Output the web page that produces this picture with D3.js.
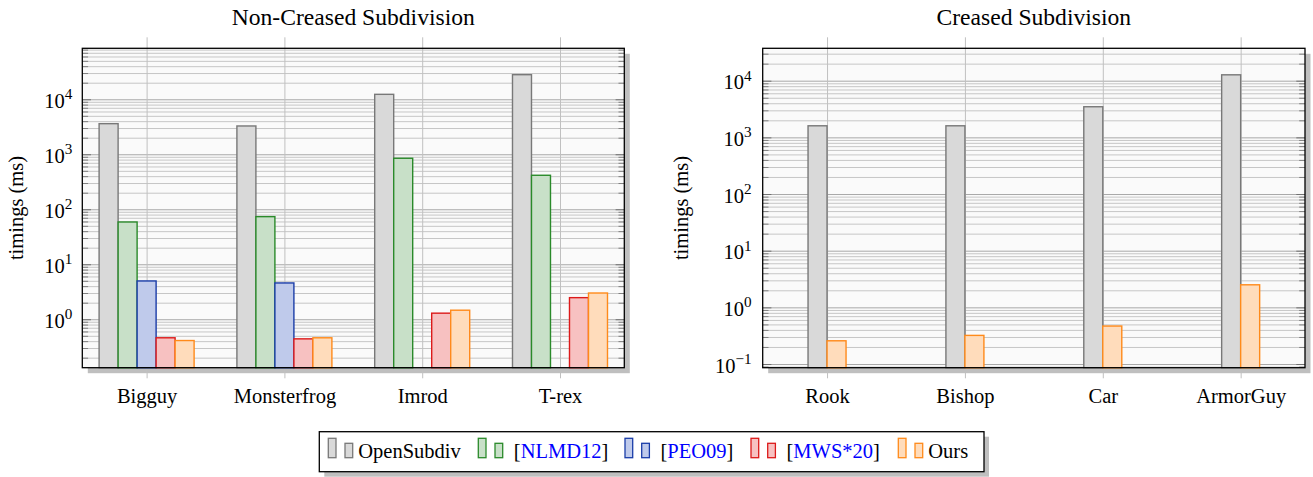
<!DOCTYPE html>
<html><head><meta charset="utf-8">
<script src="https://cdn.jsdelivr.net/npm/d3@7"></script>
<style>
html,body{margin:0;padding:0;background:#fff;}
svg{display:block;}
text{font-family:"Liberation Serif","Times New Roman",serif;fill:#000;}
</style></head>
<body><svg id="chart" width="1313" height="477"></svg>
<script>
// ---------- data ----------
const categoriesLeft = ["Bigguy", "Monsterfrog", "Imrod", "T-rex"];
const openSubdivLeft = [3600, 3270, 12300, 28000];
const nlmd12Left     = [58.7, 73.4, 846, 415];
const peo09Left      = [4.97, 4.57, null, null];
const mws20Left      = [0.46, 0.44, 1.29, 2.47];
const oursLeft       = [0.41, 0.46, 1.46, 3.0];

const categoriesRight = ["Rook", "Bishop", "Car", "ArmorGuy"];
const openSubdivRight = [1600, 1600, 3470, 12700];
const oursRight       = [0.257, 0.32, 0.468, 2.5];

const yExponentsLeft  = [0, 1, 2, 3, 4];
const yExponentsRight = [-1, 0, 1, 2, 3, 4];

const titleLeft = "Non-Creased Subdivision";
const titleRight = "Creased Subdivision";
const yLabel = "timings (ms)";

// ---------- styles ----------
const styles = {
  OpenSubdiv: {fill: "#d9d9d9", stroke: "#787878"},
  NLMD12:     {fill: "#c8e0c8", stroke: "#2a8a2a"},
  PEO09:      {fill: "#bfcaeb", stroke: "#1a3ca8"},
  MWS20:      {fill: "#f7c1c1", stroke: "#dc1a1a"},
  Ours:       {fill: "#ffdcbb", stroke: "#ff8a1a"}
};

const svg = d3.select("#chart");
const FS = 20.5;
const barW = 19;

function drawPanel(p) {
  const g = svg.append("g");
  const w = p.x1 - p.x0, h = p.y1 - p.y0;
  const x = d3.scaleLinear().domain([0.5333, 4.4667]).range([p.x0, p.x1]);
  const y = d3.scaleLog().domain(p.yDomain).range([p.y1, p.y0]);

  g.append("rect").attr("x", p.x0 + 5.5).attr("y", p.y0 + 5.5).attr("width", w).attr("height", h)
    .attr("fill", "#bfbfbf");
  g.append("rect").attr("x", p.x0).attr("y", p.y0).attr("width", w).attr("height", h)
    .attr("fill", "#fafafa");

  const majors = p.exps.map(e => Math.pow(10, e));
  const minors = [];
  for (let e = Math.floor(Math.log10(p.yDomain[0])); e <= Math.ceil(Math.log10(p.yDomain[1])); e++) {
    for (let k = 2; k <= 9; k++) {
      const v = k * Math.pow(10, e);
      if (v > p.yDomain[0] && v < p.yDomain[1]) minors.push(v);
    }
  }

  const gm = g.append("g").attr("transform", `translate(${p.x0},0)`)
    .call(d3.axisLeft(y).tickValues(minors).tickSize(-w).tickFormat(""));
  gm.select(".domain").remove();
  gm.selectAll("line").attr("stroke", "#c6c6c6");
  const gM = g.append("g").attr("transform", `translate(${p.x0},0)`)
    .call(d3.axisLeft(y).tickValues(majors).tickSize(-w).tickFormat(""));
  gM.select(".domain").remove();
  gM.selectAll("line").attr("stroke", "#a8a8a8");

  const gx = g.append("g").attr("transform", `translate(0,${p.y0 - 11})`)
    .call(d3.axisTop(x).tickValues([1, 2, 3, 4]).tickSize(-(h + 21.6)).tickFormat(""));
  gx.select(".domain").remove();
  gx.selectAll("line").attr("stroke", "#c0c0c0");

  const n = p.series.length;
  p.series.forEach((s, i) => {
    const off = (i - (n - 1) / 2) * barW;
    const st = styles[s.key];
    g.append("g").selectAll("rect").data(s.values.map((v, j) => ({v, j})).filter(d => d.v != null))
      .join("rect")
      .attr("x", d => x(d.j + 1) + off - barW / 2)
      .attr("y", d => y(d.v))
      .attr("width", barW)
      .attr("height", d => p.y1 - y(d.v))
      .attr("fill", st.fill).attr("stroke", st.stroke).attr("stroke-width", 1.4);
  });

  [[d3.axisLeft, p.x0], [d3.axisRight, p.x1]].forEach(([ax, xx]) => {
    const t1 = g.append("g").attr("transform", `translate(${xx},0)`)
      .call(ax(y).tickValues(minors).tickSize(-5.8).tickFormat(""));
    t1.select(".domain").remove();
    t1.selectAll("line").attr("stroke", "#808080");
    const t2 = g.append("g").attr("transform", `translate(${xx},0)`)
      .call(ax(y).tickValues(majors).tickSize(-8.7).tickFormat(""));
    t2.select(".domain").remove();
    t2.selectAll("line").attr("stroke", "#707070");
  });

  g.append("rect").attr("x", p.x0).attr("y", p.y0).attr("width", w).attr("height", h)
    .attr("fill", "none").attr("stroke", "#000").attr("stroke-width", 1.3);

  const yl = g.append("g").attr("transform", `translate(${p.x0},0)`)
    .call(d3.axisLeft(y).tickValues(majors).tickSize(0).tickPadding(p.labelPad));
  yl.select(".domain").remove();
  yl.selectAll("text").each(function(d) {
    const t = d3.select(this);
    const e = Math.round(Math.log10(d));
    t.text("").attr("dy", null).attr("y", 8.2).attr("font-size", FS)
      .style("font-family", '"Liberation Serif","Times New Roman",serif');
    t.append("tspan").text("10");
    t.append("tspan").attr("dy", -8.9).attr("font-size", 15.2).text(e < 0 ? "\u2212" + (-e) : String(e));
  });

  const xl = g.append("g").attr("transform", `translate(0,${p.y1})`)
    .call(d3.axisBottom(x).tickValues([1, 2, 3, 4]).tickSize(0)
      .tickFormat(i => p.cats[i - 1]));
  xl.select(".domain").remove();
  xl.selectAll("text").attr("y", 35.6).attr("dy", null).attr("font-size", FS)
    .style("font-family", '"Liberation Serif","Times New Roman",serif');

  g.append("text").attr("x", (p.x0 + p.x1) / 2).attr("y", 25).attr("text-anchor", "middle")
    .attr("font-size", 23.6).text(p.title);
  g.append("text").attr("transform", `translate(${p.ylabX},${(p.y0 + p.y1) / 2}) rotate(-90)`)
    .attr("text-anchor", "middle").attr("font-size", FS).text(yLabel);
}

drawPanel({
  x0: 82.3, x1: 624.3, y0: 48.3, y1: 367.7,
  yDomain: [0.1315, 84500], exps: yExponentsLeft, cats: categoriesLeft,
  title: titleLeft, ylabX: 23, labelPad: 10,
  series: [
    {key: "OpenSubdiv", values: openSubdivLeft},
    {key: "NLMD12", values: nlmd12Left},
    {key: "PEO09", values: peo09Left},
    {key: "MWS20", values: mws20Left},
    {key: "Ours", values: oursLeft}
  ]
});
drawPanel({
  x0: 762.7, x1: 1305, y0: 48.3, y1: 367.7,
  yDomain: [0.0861, 37300], exps: yExponentsRight, cats: categoriesRight,
  title: titleRight, ylabX: 688, labelPad: 11,
  series: [
    {key: "OpenSubdiv", values: openSubdivRight},
    {key: "Ours", values: oursRight}
  ]
});

// ---------- legend ----------
const legendItems = [
  {key: "OpenSubdiv", parts: [{t: "OpenSubdiv", c: "#000"}], cite: false},
  {key: "NLMD12", parts: [{t: "[", c: "#000"}, {t: "NLMD12", c: "#0000ff"}, {t: "]", c: "#000"}], cite: true},
  {key: "PEO09", parts: [{t: "[", c: "#000"}, {t: "PEO09", c: "#0000ff"}, {t: "]", c: "#000"}], cite: true},
  {key: "MWS20", parts: [{t: "[", c: "#000"}, {t: "MWS*20", c: "#0000ff"}, {t: "]", c: "#000"}], cite: true},
  {key: "Ours", parts: [{t: "Ours", c: "#000"}], cite: false}
];
const lg = svg.append("g");
const lgTop = 431.7, lgBottom = 471.7, base = 457.7, lgLeft = 319.3, lgRight = 984;
const itemX = [328.3, 478.3, 625, 751, 898.3];
lg.append("rect").attr("x", lgLeft + 5).attr("y", lgTop + 5).attr("width", lgRight - lgLeft)
  .attr("height", lgBottom - lgTop).attr("fill", "#bfbfbf");
lg.append("rect").attr("x", lgLeft).attr("y", lgTop).attr("width", lgRight - lgLeft)
  .attr("height", lgBottom - lgTop).attr("fill", "#fff").attr("stroke", "#000").attr("stroke-width", 1.3);
legendItems.forEach((it, i) => {
  const st = styles[it.key];
  const cx = itemX[i];
  lg.append("rect").attr("x", cx).attr("y", 438.3).attr("width", 7.7).attr("height", 19.4)
    .attr("fill", st.fill).attr("stroke", st.stroke).attr("stroke-width", 1.3);
  lg.append("rect").attr("x", cx + 16.7).attr("y", 443.3).attr("width", 7.7).attr("height", 14.4)
    .attr("fill", st.fill).attr("stroke", st.stroke).attr("stroke-width", 1.3);
  const tx = cx + 30 + (it.cite ? 5.5 : 0);
  const t = lg.append("text").attr("x", tx).attr("y", base).attr("font-size", FS);
  it.parts.forEach(pt => t.append("tspan").style("fill", pt.c).text(pt.t));
});
</script>
</body></html>
